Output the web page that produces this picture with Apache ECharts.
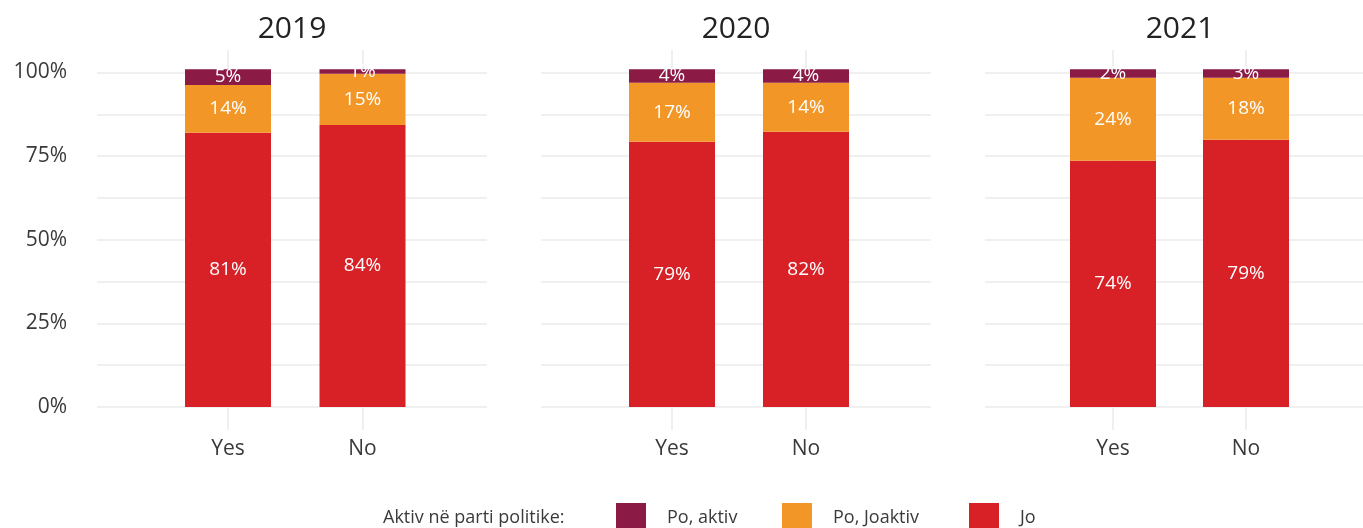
<!DOCTYPE html>
<html>
<head>
<meta charset="utf-8">
<script src="https://cdn.jsdelivr.net/npm/echarts@6/dist/echarts.min.js"></script>
<style>
  html, body { margin: 0; padding: 0; background: #ffffff; }
  #chart { width: 1363px; height: 528px; }
</style>
</head>
<body>
<div id="chart"></div>
<script>
// ---- data ----
const years = ['2019', '2020', '2021'];
const groups = ['Yes', 'No'];
const yTicks = [0, 25, 50, 75, 100];

// bar segment heights (%) per year, [Yes, No]
const joValues      = [[82.0, 84.3], [79.3, 82.3], [73.6, 79.9]];
const joaktivValues = [[14.3, 15.3], [17.6, 14.6], [24.8, 18.5]];
const aktivValues   = [[4.7, 1.4],   [4.1, 4.1],   [2.6, 2.6]];

// printed labels (%) per year, [Yes, No]
const joLabels      = [[81, 84], [79, 82], [74, 79]];
const joaktivLabels = [[14, 15], [17, 14], [24, 18]];
const aktivLabels   = [[5, 1],   [4, 4],   [2, 3]];

const seriesNames = ['Jo', 'Po, Joaktiv', 'Po, aktiv'];
const legendTitle = 'Aktiv në parti politike:';

// ---- styling / layout ----
const FONT = 'Open Sans';
const colors = { 'Jo': '#D82027', 'Po, Joaktiv': '#F29727', 'Po, aktiv': '#8B1A45' };
const gridColor = '#EBEBEB';
const textColor = '#3a3a3a';

const panelLeft = [97, 541, 985];
const panelWidth = 390;
const yesX = [228, 672, 1113];
const noX = [362.5, 806, 1246];
const zeroY = 407, hundredY = 72.5;
const pxPerPct = (zeroY - hundredY) / 100;
const panelTop = 50, panelBottom = 430;

const valueSets = [joValues, joaktivValues, aktivValues];
const labelSets = [joLabels, joaktivLabels, aktivLabels];

// padded category list: one empty slot before Yes
const axisCats = [' ', ...groups];

const grid = [], xAxis = [], yAxis = [], series = [];
years.forEach((yr, i) => {
  const L = panelLeft[i];
  const u = noX[i] - yesX[i];
  // grid A: horizontal gridlines + y labels
  grid.push({ left: L, top: hundredY, width: panelWidth, height: zeroY - hundredY });
  // grid B: bars + vertical gridlines + x labels
  grid.push({ left: yesX[i] - u, top: panelTop, width: 2 * u, height: panelBottom - panelTop });

  xAxis.push({ gridIndex: 2 * i, type: 'value', min: 0, max: 1, show: false });
  yAxis.push({
    gridIndex: 2 * i, type: 'value', min: 0, max: 100, interval: 12.5,
    axisLine: { show: false }, axisTick: { show: false },
    splitLine: { show: true, lineStyle: { color: gridColor, width: 1.6 } },
    axisLabel: {
      show: i === 0, margin: 30, fontSize: 21, color: textColor, fontFamily: FONT,
      formatter: v => (yTicks.indexOf(v) >= 0 ? v + '%' : '')
    }
  });

  xAxis.push({
    gridIndex: 2 * i + 1, type: 'category', data: axisCats, boundaryGap: false,
    axisLine: { show: false }, axisTick: { show: false },
    splitLine: {
      show: true,
      interval: (idx, val) => groups.indexOf(val) >= 0,
      lineStyle: { color: gridColor, width: 1.6 }
    },
    axisLabel: {
      interval: 0, margin: 9, fontSize: 21, color: textColor, fontFamily: FONT,
      showMinLabel: true, showMaxLabel: true,
      formatter: v => (groups.indexOf(v) >= 0 ? v : '')
    }
  });
  yAxis.push({
    gridIndex: 2 * i + 1, type: 'value',
    min: -(panelBottom - zeroY) / pxPerPct,
    max: 100 + (hundredY - panelTop) / pxPerPct,
    show: false
  });

  seriesNames.forEach((name, k) => {
    series.push({
      type: 'bar', name: name, clip: false,
      xAxisIndex: 2 * i + 1, yAxisIndex: 2 * i + 1,
      stack: 'p' + i, barWidth: 86,
      itemStyle: { color: colors[name] },
      label: {
        show: true, position: 'inside', color: '#ffffff', fontSize: 19, fontFamily: FONT,
        formatter: p => {
          const j = groups.indexOf(p.name);
          return j >= 0 ? labelSets[k][i][j] + '%' : '';
        }
      },
      data: axisCats.map(c => {
        const j = groups.indexOf(c);
        return j >= 0 ? valueSets[k][i][j] : '-';
      })
    });
  });
});

const legendItems = [
  { name: 'Po, aktiv', left: 616 },
  { name: 'Po, Joaktiv', left: 782 },
  { name: 'Jo', left: 969 }
];
const legend = legendItems.map(it => ({
  data: [it.name], left: it.left, top: 503, itemWidth: 30, itemHeight: 30,
  icon: 'rect', selectedMode: false, padding: 0,
  textStyle: { fontSize: 18, color: textColor, fontFamily: FONT, padding: [0, 0, 0, 16] }
}));

const graphic = years.map((yr, i) => ({
  type: 'text', x: panelLeft[i] + panelWidth / 2, y: 29,
  style: { text: yr, fontSize: 30, fontFamily: FONT, fill: '#222222',
           textAlign: 'center', textVerticalAlign: 'middle', align: 'center', verticalAlign: 'middle' }
}));
graphic.push({
  type: 'text', x: 383, y: 518,
  style: { text: legendTitle, fontSize: 18, fontFamily: FONT, fill: textColor,
           textAlign: 'left', textVerticalAlign: 'middle', align: 'left', verticalAlign: 'middle' }
});

const chart = echarts.init(document.getElementById('chart'), null, { renderer: 'canvas' });
chart.setOption({
  animation: false,
  backgroundColor: '#ffffff',
  grid, xAxis, yAxis, series, legend, graphic
});
</script>
</body>
</html>
